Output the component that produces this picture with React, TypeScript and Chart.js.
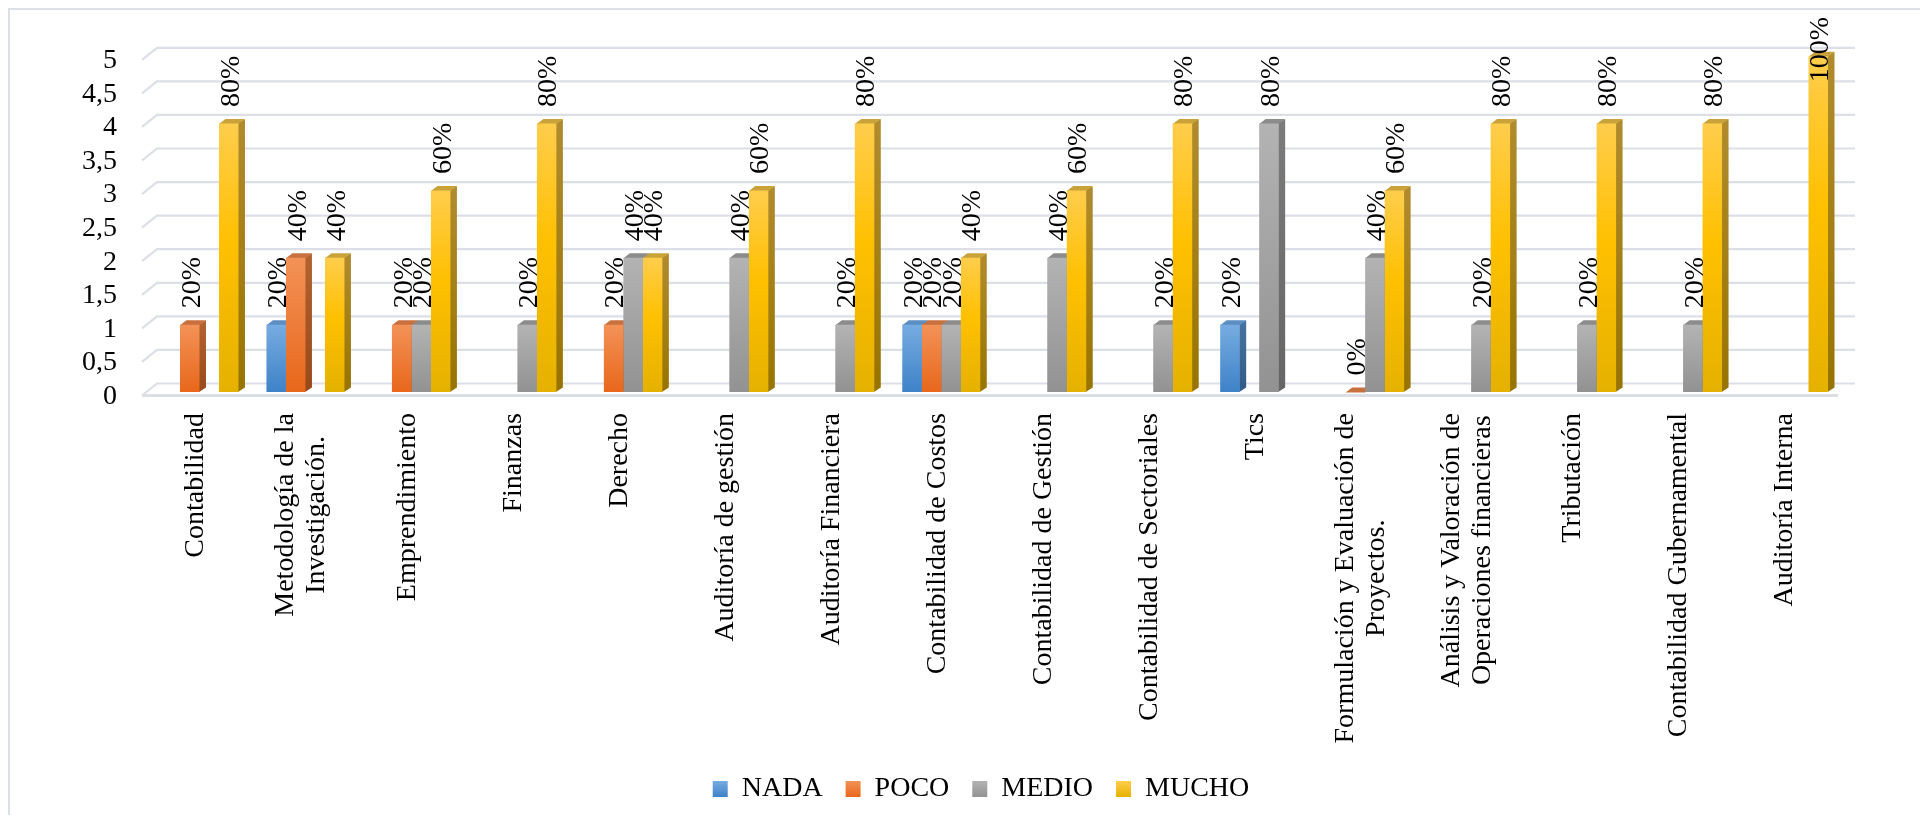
import React, { useEffect, useRef } from 'react';
import { Chart, registerables } from 'chart.js';

Chart.register(...registerables);

// ---------------- data ----------------
const categories: (string | string[])[] = [
  'Contabilidad',
  ['Metodología de la', 'Investigación.'],
  'Emprendimiento',
  'Finanzas',
  'Derecho',
  'Auditoría de gestión',
  'Auditoría Financiera',
  'Contabilidad de Costos',
  'Contabilidad de Gestión',
  'Contabilidad de Sectoriales',
  'Tics',
  ['Formulación y Evaluación de', 'Proyectos.'],
  ['Análisis y Valoración de', 'Operaciones financieras'],
  'Tributación',
  'Contabilidad Gubernamental',
  'Auditoría Interna',
];

const seriesNames = ['NADA', 'POCO', 'MEDIO', 'MUCHO'];

const nada = [null, 1, null, null, null, null, null, 1, null, null, 1, null, null, null, null, null];
const poco = [1, 2, 1, null, 1, null, null, 1, null, null, null, 0, null, null, null, null];
const medio = [null, null, 1, 1, 2, 2, 1, 1, 2, 1, 4, 2, 1, 1, 1, null];
const mucho = [4, 2, 3, 4, 2, 3, 4, 2, 3, 4, null, 3, 4, 4, 4, 5];

const yTickLabels = ['0', '0,5', '1', '1,5', '2', '2,5', '3', '3,5', '4', '4,5', '5'];

const respondents = 5;

// ---------------- styles ----------------
const FONT = "'Liberation Serif', 'Times New Roman', Times, serif";
const FONT_SIZE = 28;
const CANVAS_W = 1918;
const CANVAS_H = 805;
const PAD = { left: 0, right: 86, top: 44.5, bottom: 2 };
const LEGEND_PAD = 23;
const LEGEND_CENTER_X = 971;
const BOX_W = 15;
const BOX_H = 16;
const X_AXIS_H = 360;
const Y_AXIS_W = 136.5;
const DX = 6.5;
const DY = 4.5;
const LABEL_TOP = 7;

const palettes = [
  { front: ['#76ace1', '#3e82c8'], side: ['#46729f', '#2f5a86'], top: '#5c8ec2' },
  { front: ['#f39257', '#e8671b'], side: ['#b2622f', '#98491a'], top: '#c9703f' },
  { front: ['#b3b3b3', '#929292'], side: ['#7b7b7b', '#656565'], top: '#8c8c8c' },
  { front: ['#ffcd4c', '#ffc000', '#e5b100'], side: ['#b08b2d', '#977400'], top: '#c9a23a' },
];

const seriesData = [nada, poco, medio, mucho];

function frontColor(pi: number) {
  return (c: any) => {
    const pal = palettes[pi];
    const flat = pal.front[1];
    if (!c || c.type !== 'data') return flat;
    const chart = c.chart;
    const ys = chart.scales && chart.scales.y;
    const v = c.raw;
    if (v == null || !ys) return flat;
    const top = ys.getPixelForValue(v);
    const bot = ys.getPixelForValue(0);
    if (!isFinite(top) || !isFinite(bot) || bot - top < 1) return flat;
    const g = chart.ctx.createLinearGradient(0, top, 0, bot);
    if (pal.front.length === 3) {
      g.addColorStop(0, pal.front[0]);
      g.addColorStop(0.45, pal.front[1]);
      g.addColorStop(1, pal.front[2]);
    } else {
      g.addColorStop(0, pal.front[0]);
      g.addColorStop(1, pal.front[1]);
    }
    return g;
  };
}

const legendShiftPlugin = {
  id: 'legendShift',
  afterLayout(chart: any) {
    const lg = chart.legend;
    if (!lg) return;
    const delta = LEGEND_CENTER_X - (lg.left + lg.right) / 2;
    lg.left += delta;
    lg.right += delta;
  },
};

const wallGridPlugin = {
  id: 'wallGrid',
  beforeDatasetsDraw(chart: any) {
    const { ctx, chartArea: ca } = chart;
    const ys = chart.scales.y;
    const fl = ca.left - 4.5;
    const bl = ca.left + 10.5;
    const br = ca.right + 13;
    const fr = ca.right - 4;
    ctx.save();
    ctx.strokeStyle = '#dcdfe5';
    ctx.lineWidth = 2.2;
    ys.ticks.forEach((t: any) => {
      const y = ys.getPixelForValue(t.value);
      ctx.beginPath();
      ctx.moveTo(fl, y + 3.5);
      ctx.lineTo(bl, y - 8.5);
      ctx.lineTo(br, y - 8.5);
      ctx.stroke();
    });
    const y0 = ys.getPixelForValue(0) + 3.5;
    ctx.lineWidth = 3;
    ctx.beginPath();
    ctx.moveTo(fl, y0);
    ctx.lineTo(fr, y0);
    ctx.stroke();
    ctx.restore();
  },
};

const depthPlugin = {
  id: 'depth3d',
  beforeDatasetsDraw(chart: any) {
    const { ctx } = chart;
    const ys = chart.scales.y;
    const base = ys.getPixelForValue(0);
    ctx.save();
    // side faces
    chart.data.datasets.forEach((ds: any, di: number) => {
      const meta = chart.getDatasetMeta(di);
      const pal = palettes[di];
      meta.data.forEach((bar: any, i: number) => {
        const v = ds.data[i];
        if (v == null || v === 0) return;
        const { x, y, width } = bar.getProps(['x', 'y', 'width'], true);
        const r = x + width / 2;
        const g = ctx.createLinearGradient(0, y, 0, base);
        g.addColorStop(0, pal.side[0]);
        g.addColorStop(1, pal.side[1]);
        ctx.fillStyle = g;
        ctx.beginPath();
        ctx.moveTo(r - 0.5, y);
        ctx.lineTo(r + DX, y - DY);
        ctx.lineTo(r + DX, base - DY);
        ctx.lineTo(r - 0.5, base);
        ctx.closePath();
        ctx.fill();
      });
    });
    // top faces
    chart.data.datasets.forEach((ds: any, di: number) => {
      const meta = chart.getDatasetMeta(di);
      const pal = palettes[di];
      meta.data.forEach((bar: any, i: number) => {
        const v = ds.data[i];
        if (v == null) return;
        const { x, y, width } = bar.getProps(['x', 'y', 'width'], true);
        const l = x - width / 2;
        const r = x + width / 2;
        ctx.fillStyle = pal.top;
        ctx.beginPath();
        ctx.moveTo(l, y + 0.5);
        ctx.lineTo(l + DX, y - DY);
        ctx.lineTo(r + DX, y - DY);
        ctx.lineTo(r, y + 0.5);
        ctx.closePath();
        ctx.fill();
      });
    });
    ctx.restore();
  },
};

const valueLabelPlugin = {
  id: 'valueLabels',
  afterDatasetsDraw(chart: any) {
    const { ctx } = chart;
    ctx.save();
    ctx.font = `${FONT_SIZE}px ${FONT}`;
    ctx.fillStyle = '#000';
    ctx.textAlign = 'left';
    ctx.textBaseline = 'middle';
    chart.data.datasets.forEach((ds: any, di: number) => {
      const meta = chart.getDatasetMeta(di);
      meta.data.forEach((bar: any, i: number) => {
        const v = ds.data[i];
        if (v == null) return;
        const text = `${Math.round((v / respondents) * 100)}%`;
        const w = ctx.measureText(text).width;
        const { x, y } = bar.getProps(['x', 'y'], true);
        let ys = y - 16.5;
        if (ys - w < LABEL_TOP) ys = LABEL_TOP + w;
        ctx.save();
        ctx.translate(x + 2.5, ys);
        ctx.rotate(-Math.PI / 2);
        ctx.fillText(text, 0, 0);
        ctx.restore();
      });
    });
    ctx.restore();
  },
};

const categoryLabelPlugin = {
  id: 'categoryLabels',
  afterDraw(chart: any) {
    const { ctx, chartArea } = chart;
    const xs = chart.scales.x;
    const top = chartArea.bottom + 21;
    ctx.save();
    ctx.font = `${FONT_SIZE}px ${FONT}`;
    ctx.fillStyle = '#000';
    ctx.textAlign = 'center';
    ctx.textBaseline = 'middle';
    (chart.data.labels as any[]).forEach((lab: any, i: number) => {
      const lines: string[] = Array.isArray(lab) ? lab : [lab];
      const cx = xs.getPixelForValue(i) - 4;
      const W = Math.max(...lines.map((l) => ctx.measureText(l).width));
      const cy = top + W / 2;
      lines.forEach((l, j) => {
        const lx = cx + (j - (lines.length - 1) / 2) * 31;
        ctx.save();
        ctx.translate(lx, cy);
        ctx.rotate(-Math.PI / 2);
        ctx.fillText(l, 0, 0);
        ctx.restore();
      });
    });
    ctx.restore();
  },
};

export default function App() {
  const ref = useRef<HTMLCanvasElement>(null);

  useEffect(() => {
    if (!ref.current) return;
    const legendHeight = FONT_SIZE + LEGEND_PAD + 10;
    const legendTop = CANVAS_H - PAD.bottom - legendHeight;
    const boxTop = legendTop + LEGEND_PAD + Math.max((FONT_SIZE - BOX_H) / 2, 0);

    const chart = new Chart(ref.current, {
      type: 'bar',
      data: {
        labels: categories as any,
        datasets: seriesNames.map((name, i) => ({
          label: name,
          data: seriesData[i] as any,
          backgroundColor: frontColor(i) as any,
          borderWidth: 0,
          categoryPercentage: 0.736,
          barPercentage: 1,
        })),
      },
      options: {
        responsive: false,
        animation: false,
        events: [],
        layout: { padding: PAD },
        scales: {
          x: {
            grid: { display: false, drawTicks: false },
            border: { display: false },
            ticks: { display: false },
            afterFit: (s: any) => {
              s.height = X_AXIS_H;
            },
          },
          y: {
            min: 0,
            max: 5,
            grid: { display: false, drawTicks: false },
            border: { display: false },
            ticks: {
              stepSize: 0.5,
              autoSkip: false,
              padding: 29.5,
              labelOffset: 4.5,
              color: '#000',
              font: { family: FONT, size: FONT_SIZE },
              callback: (_v: any, idx: number) => yTickLabels[idx],
            },
            afterFit: (s: any) => {
              s.width = Y_AXIS_W;
            },
          },
        },
        plugins: {
          tooltip: { enabled: false },
          legend: {
            position: 'bottom',
            labels: {
              boxWidth: BOX_W,
              boxHeight: BOX_H,
              padding: LEGEND_PAD,
              color: '#000',
              font: { family: FONT, size: FONT_SIZE },
              generateLabels: (c: any) => {
                const items = (Chart.defaults.plugins.legend.labels as any).generateLabels(c);
                return items.map((it: any, i: number) => {
                  const pal = palettes[i];
                  const g = c.ctx.createLinearGradient(0, boxTop, 0, boxTop + BOX_H);
                  g.addColorStop(0, pal.front[0]);
                  g.addColorStop(1, pal.front[pal.front.length - 1]);
                  return { ...it, fillStyle: g, strokeStyle: 'rgba(0,0,0,0)', lineWidth: 0 };
                });
              },
            },
          },
        },
      } as any,
      plugins: [legendShiftPlugin, wallGridPlugin, depthPlugin, valueLabelPlugin, categoryLabelPlugin],
    });
    return () => chart.destroy();
  }, []);

  return (
    <div
      style={{
        width: 1920,
        height: 807,
        boxSizing: 'border-box',
        borderTop: '2px solid #dcdfe4',
        borderLeft: '2px solid #dcdfe4',
        background: '#fff',
      }}
    >
      <canvas
        ref={ref}
        width={CANVAS_W}
        height={CANVAS_H}
        style={{ display: 'block', width: CANVAS_W, height: CANVAS_H }}
      />
    </div>
  );
}
